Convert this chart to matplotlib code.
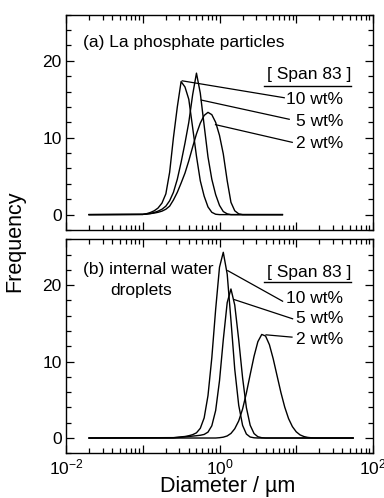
import numpy as np
import matplotlib.pyplot as plt
from matplotlib.ticker import LogLocator, MultipleLocator, FuncFormatter, NullFormatter

plt.rcParams['font.family'] = ['Liberation Sans', 'DejaVu Sans']
plt.rcParams['mathtext.fontset'] = 'custom'
plt.rcParams['mathtext.rm'] = 'Liberation Sans'
plt.rcParams['mathtext.it'] = 'Liberation Sans:italic'

# size bins (um)
d_top = [0.02, 0.1, 0.112, 0.126, 0.141, 0.158, 0.178, 0.2, 0.224, 0.251, 0.282,
         0.316, 0.355, 0.398, 0.447, 0.501, 0.562, 0.631, 0.708, 0.794, 0.891,
         1.0, 1.12, 1.26, 1.41, 1.58, 1.78, 2.0, 2.24, 2.51, 2.82, 3.16, 6.6]
d_bot = [0.02, 0.251, 0.282, 0.316, 0.355, 0.398, 0.447, 0.501, 0.562, 0.631,
         0.708, 0.794, 0.891, 1.0, 1.12, 1.26, 1.41, 1.58, 1.78, 2.0, 2.24, 2.51,
         2.82, 3.16, 3.55, 3.98, 4.47, 5.01, 5.62, 6.31, 7.08, 7.94, 8.91, 10.0,
         11.2, 12.6, 14.1, 15.8, 17.8, 55]

# (a) La phosphate particles
a_10 = [0, 0.03, 0.12, 0.28, 0.5, 0.85, 1.5, 2.7, 5.5, 10.0, 14.0, 17.3, 16.6,
        15.0, 11.3, 7.6, 4.4, 2.4, 1.0, 0.3, 0.05, 0, 0, 0, 0, 0, 0, 0, 0, 0, 0, 0, 0]
a_5 = [0, 0.03, 0.08, 0.15, 0.28, 0.45, 0.7, 1.1, 1.8, 2.9, 4.6, 6.8, 9.3, 12.0,
       15.6, 18.4, 15.8, 11.6, 7.5, 4.6, 2.6, 1.2, 0.4, 0.1, 0, 0, 0, 0, 0, 0, 0, 0, 0]
a_2 = [0, 0.03, 0.07, 0.13, 0.2, 0.3, 0.45, 0.7, 1.1, 1.9, 2.9, 4.1, 5.4, 7.0,
       8.8, 10.5, 11.9, 12.9, 13.3, 13.0, 12.0, 10.3, 7.9, 4.4, 1.6, 0.5, 0.1,
       0, 0, 0, 0, 0, 0]

# (b) internal water droplets
b_10 = [0, 0.05, 0.1, 0.15, 0.2, 0.3, 0.44, 0.68, 1.27, 2.63, 5.55, 10.5, 16.83, 22.35,
        24.3, 21.44, 15.4, 9.0, 4.28, 1.65, 0.52, 0.13, 0.03, 0,
        0, 0, 0, 0, 0, 0, 0, 0, 0, 0, 0, 0, 0, 0, 0, 0]
b_5 = [0, 0.03, 0.06, 0.1, 0.15, 0.2, 0.25, 0.3, 0.36, 0.47, 0.77, 1.6, 3.6, 7.49,
       12.85, 17.72, 19.5, 17.4, 12.85, 7.86, 3.98, 1.67, 0.58, 0.17, 0.04, 0,
       0, 0, 0, 0, 0, 0, 0, 0, 0, 0, 0, 0, 0, 0]
b_2 = [0, 0, 0, 0, 0, 0, 0, 0, 0, 0, 0, 0, 0, 0.04, 0.11, 0.27, 0.60, 1.21, 2.24, 3.80,
       5.88, 8.30, 10.70, 12.6, 13.55, 13.35, 12.21, 10.36, 8.16, 5.96, 4.04, 2.54,
       1.49, 0.81, 0.41, 0.19, 0.08, 0.03, 0, 0]

labels = ['10 wt%', '5 wt%', '2 wt%']

# leader lines: (x0, y0, x1, y1)
lead_a = [(0.327, 17.4, 6.98, 15.2), (0.578, 14.9, 8.1, 12.4), (0.887, 11.7, 8.87, 9.4)]
lead_b = [(1.28, 21.9, 6.64, 17.9), (1.57, 18.1, 8.96, 15.6), (4.04, 13.5, 8.8, 13.2)]

fig = plt.figure(figsize=(3.84, 4.98), dpi=100)
ax1 = fig.add_axes([66/384, 1-230/498, 307/384, 215.3/498])
ax2 = fig.add_axes([66/384, 1-453.3/498, 307/384, 214/498])


def dec_fmt(v, pos):
    e = int(round(np.log10(v)))
    return f'$10^{{{e}}}$' if e % 2 == 0 else ''


for ax in (ax1, ax2):
    ax.set_xscale('log')
    ax.set_xlim(0.01, 100)
    ax.set_ylim(-2, 26)
    ax.yaxis.set_major_locator(MultipleLocator(10))
    ax.yaxis.set_minor_locator(MultipleLocator(2))
    ax.xaxis.set_major_locator(LogLocator(base=10, numticks=10))
    ax.xaxis.set_minor_locator(LogLocator(base=10, subs=np.arange(2, 10), numticks=20))
    ax.xaxis.set_minor_formatter(NullFormatter())
    ax.tick_params(which='both', direction='in', top=True, right=True, width=0.9,
                   labelsize=12.5, pad=3)
    ax.tick_params(which='major', length=6)
    ax.tick_params(which='minor', length=3.5)
    for s in ax.spines.values():
        s.set_linewidth(1.0)

ax1.xaxis.set_major_formatter(NullFormatter())
ax2.xaxis.set_major_formatter(FuncFormatter(dec_fmt))

for y in (a_10, a_5, a_2):
    ax1.plot(d_top, y, color='k', lw=1.0)
for y in (b_10, b_5, b_2):
    ax2.plot(d_bot, y, color='k', lw=1.0)

ax1.text(0.055, 0.873, '(a) La phosphate particles', transform=ax1.transAxes,
         fontsize=12.5, va='center', ha='left')
ax2.text(0.055, 0.857, '(b) internal water', transform=ax2.transAxes,
         fontsize=12.5, va='center', ha='left')
ax2.text(0.143, 0.763, 'droplets', transform=ax2.transAxes,
         fontsize=12.5, va='center', ha='left')

span_y = [(0.72, 0.671, [0.604, 0.506, 0.40]), (0.847, 0.799, [0.724, 0.631, 0.533])]
for ax, (sy, uy, ly), leads in zip((ax1, ax2), span_y, (lead_a, lead_b)):
    ax.text(0.792, sy, '[ Span 83 ]', transform=ax.transAxes, fontsize=12.5,
            ha='center', va='center')
    ax.plot([0.645, 0.928], [uy, uy], transform=ax.transAxes, color='k', lw=1.0)
    for lab, yy, (x0, y0, x1, y1) in zip(labels, ly, leads):
        ax.text(0.902, yy, lab, transform=ax.transAxes, fontsize=12.5,
                ha='right', va='center')
        ax.plot([x0, x1], [y0, y1], color='k', lw=0.9)

fig.text(15/384, 0.516, 'Frequency', rotation=90, fontsize=15.5, ha='center', va='center')
fig.text(228/384, 0.013, 'Diameter / µm', fontsize=15.5, ha='center', va='baseline')

fig.savefig('out.png', dpi=100)
